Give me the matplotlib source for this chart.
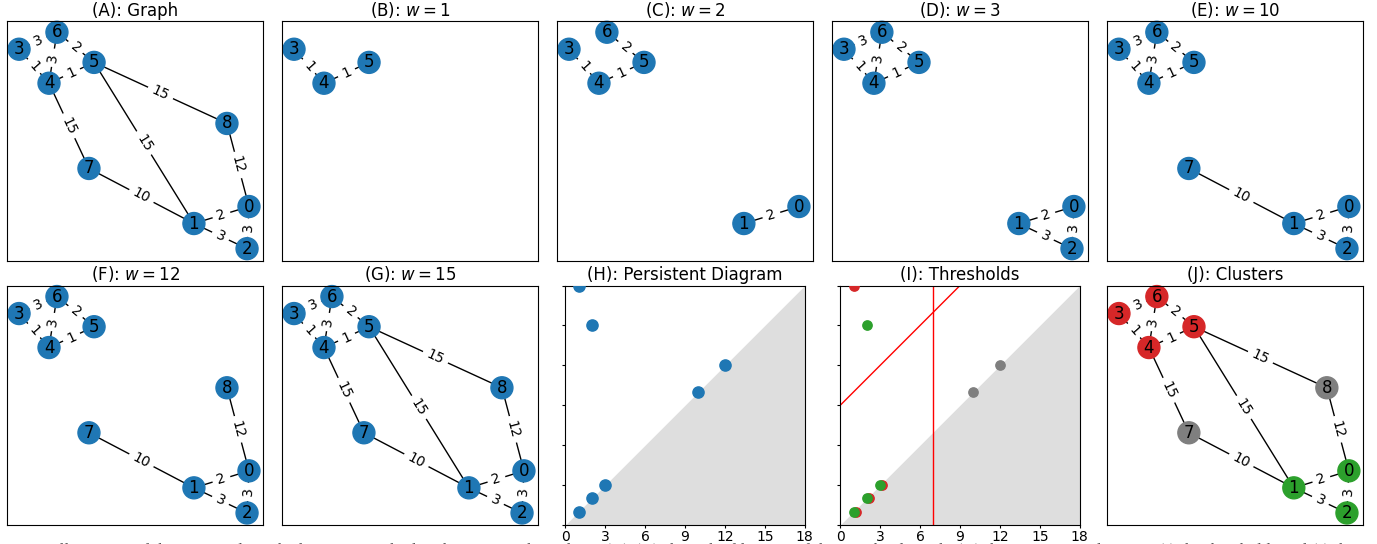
import numpy as np
import matplotlib
matplotlib.use("Agg")
import matplotlib.pyplot as plt

# graph layout (node id -> position in [0,1] box)
node_ids = [0, 1, 2, 3, 4, 5, 6, 7, 8]
node_x = [0.945, 0.730, 0.9375, 0.047, 0.164, 0.340, 0.195, 0.320, 0.859]
node_y = [0.226, 0.155, 0.050, 0.883, 0.741, 0.828, 0.954, 0.385, 0.573]

# weighted edges
edge_u = [3, 4, 6, 1, 3, 6, 1, 0, 7, 8, 5, 4, 5]
edge_v = [4, 5, 5, 0, 6, 4, 2, 2, 1, 0, 8, 7, 1]
edge_w = [1, 1, 2, 2, 3, 3, 3, 3, 10, 12, 15, 15, 15]

thresholds = [1, 2, 3, 10, 12, 15]
panel_letters = ["B", "C", "D", "E", "F", "G"]

# persistence diagram (birth, death)
pd_birth = [1, 2, 1, 2, 3, 10, 12]
pd_death = [18, 15, 1, 2, 3, 10, 12]
pd_cluster = ["red", "green", "both", "both", "both", "gray", "gray"]

# threshold lines in (I)
vline_x = 7
diag_offset = 9

cluster_col = {0: "#2ca02c", 1: "#2ca02c", 2: "#2ca02c",
               3: "#d62728", 4: "#d62728", 5: "#d62728", 6: "#d62728",
               7: "#7f7f7f", 8: "#7f7f7f"}
pd_colmap = {"red": "#d62728", "green": "#2ca02c", "gray": "#7f7f7f"}

pos = {n: (x, y) for n, x, y in zip(node_ids, node_x, node_y)}


def draw_graph(ax, wmax, colors=None):
    ax.set_xlim(0, 1)
    ax.set_ylim(0, 1)
    ax.tick_params(axis="both", which="both", bottom=False, left=False,
                   labelbottom=False, labelleft=False)
    used = set()
    edges = [(u, v, w) for u, v, w in zip(edge_u, edge_v, edge_w) if w <= wmax]
    for u, v, w in edges:
        used.update([u, v])
        (x1, y1), (x2, y2) = pos[u], pos[v]
        ax.plot([x1, x2], [y1, y2], color="k", lw=1, zorder=1)
    fig.canvas.draw()
    for u, v, w in edges:
        p1 = ax.transData.transform(pos[u])
        p2 = ax.transData.transform(pos[v])
        ang = np.degrees(np.arctan2(p2[1] - p1[1], p2[0] - p1[0]))
        if ang > 90:
            ang -= 180
        if ang < -90:
            ang += 180
        xm = (pos[u][0] + pos[v][0]) / 2
        ym = (pos[u][1] + pos[v][1]) / 2
        ax.text(xm, ym, str(w), fontsize=10, rotation=ang, rotation_mode="anchor",
                ha="center", va="center", zorder=1.5,
                bbox=dict(boxstyle="round", ec=(1, 1, 1), fc=(1, 1, 1)))
    ns = sorted(used)
    cols = [colors[n] if colors else "#1f77b4" for n in ns]
    ax.scatter([pos[n][0] for n in ns], [pos[n][1] for n in ns], s=250,
               c=cols, zorder=2, clip_on=False)
    for n in ns:
        ax.text(pos[n][0], pos[n][1], str(n), fontsize=12, ha="center",
                va="center", zorder=3)


def diagram_axes(ax):
    ax.fill_between([0, 18], [0, 0], [0, 18], color="#dedede", lw=0, zorder=0)
    ax.set_xlim(0, 18)
    ax.set_ylim(0, 18)
    ax.set_aspect("equal")
    ax.set_xticks(range(0, 19, 3))
    ax.set_yticks(range(0, 19, 3))
    ax.set_yticklabels([])
    ax.tick_params(length=2.5, pad=1)


fig, axes = plt.subplots(2, 5, figsize=(13.77, 5.44), dpi=100)
plt.subplots_adjust(left=0.0051, right=0.9898, top=0.961, bottom=0.035,
                    wspace=0.074, hspace=0.104)

draw_graph(axes[0, 0], 100)
axes[0, 0].set_title("(A): Graph", pad=4)

slots = [axes[0, 1], axes[0, 2], axes[0, 3], axes[0, 4], axes[1, 0], axes[1, 1]]
for ax, t, letter in zip(slots, thresholds, panel_letters):
    draw_graph(ax, t)
    ax.set_title("(%s): $w = %d$" % (letter, t), pad=4)

ax = axes[1, 2]
diagram_axes(ax)
ax.scatter(pd_birth, pd_death, s=65, color="#1f77b4", zorder=3, clip_on=True)
ax.set_title("(H): Persistent Diagram", pad=4)

ax = axes[1, 3]
diagram_axes(ax)
for b, d, c in zip(pd_birth, pd_death, pd_cluster):
    if c == "both":
        ax.scatter([b + 0.15], [d], s=45, color=pd_colmap["red"], zorder=3)
        ax.scatter([b], [d], s=45, color=pd_colmap["green"], zorder=4)
    else:
        ax.scatter([b], [d], s=45, color=pd_colmap[c], zorder=3)
ax.axvline(vline_x, color="red", lw=1, zorder=2)
xs = np.array([0, 18])
ax.plot(xs, xs + diag_offset, color="red", lw=1, zorder=2)
ax.set_xlim(0, 18)
ax.set_ylim(0, 18)
ax.set_title("(I): Thresholds", pad=4)

draw_graph(axes[1, 4], 100, colors=cluster_col)
axes[1, 4].set_title("(J): Clusters", pad=4)

# caption of the source figure, cut off at the bottom edge
fig.text(0.003, 0.002, "Fig. 5: Illustration of the proposed graph clustering method with "
         "persistent homology. (A)-(G) show the filtration of the weighted graph, (H) the "
         "persistence diagram, (I) the thresholds and (J) the resulting clusters.",
         fontsize=12.5, family="Liberation Serif", va="top", ha="left", color="#555555")

fig.savefig("out.png", dpi=100)
